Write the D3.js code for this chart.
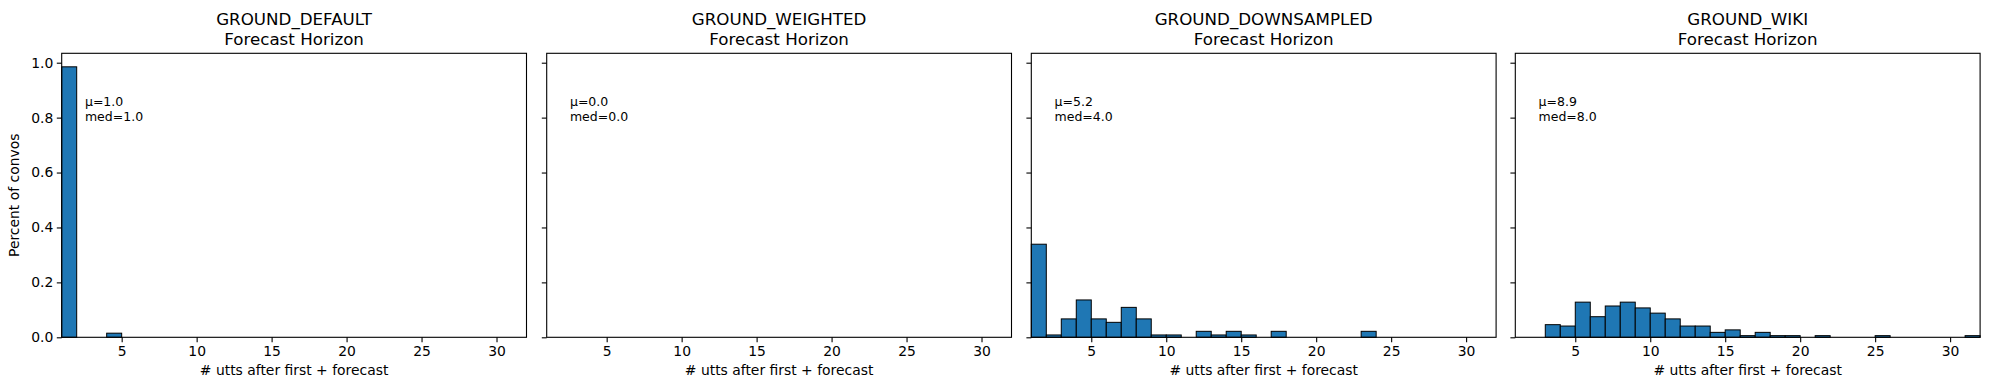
<!DOCTYPE html>
<html>
<head>
<meta charset="utf-8">
<script src="https://cdn.jsdelivr.net/npm/d3@7"></script>
<style>
  html, body { margin: 0; padding: 0; background: #fff; }
  svg { display: block; font-family: "DejaVu Sans", sans-serif; }
</style>
</head>
<body>
<svg id="chart" width="1990" height="390"></svg>
<script>
// histogram bins: width 1, from 1 to 32
const binStarts = d3.range(1, 32);

const panelNames = ['GROUND_DEFAULT', 'GROUND_WEIGHTED', 'GROUND_DOWNSAMPLED', 'GROUND_WIKI'];
const means = ['1.0', '0.0', '5.2', '8.9'];
const medians = ['1.0', '0.0', '4.0', '8.0'];

// share of convos per bin
const defaultVals = [0.985, 0, 0, 0.015, 0, 0, 0, 0, 0, 0, 0, 0, 0, 0, 0, 0,
  0, 0, 0, 0, 0, 0, 0, 0, 0, 0, 0, 0, 0, 0, 0];
const weightedVals = [0, 0, 0, 0, 0, 0, 0, 0, 0, 0, 0, 0, 0, 0, 0, 0,
  0, 0, 0, 0, 0, 0, 0, 0, 0, 0, 0, 0, 0, 0, 0];
const downsampledVals = [0.339, 0.0085, 0.067, 0.136, 0.067, 0.0545, 0.109, 0.067, 0.0085, 0.0085,
  0, 0.0218, 0.0085, 0.0218, 0.0085, 0, 0.0218, 0, 0, 0, 0, 0, 0.0218, 0, 0, 0, 0, 0, 0, 0, 0];
const wikiVals = [0, 0, 0.046, 0.041, 0.128, 0.075, 0.114, 0.128, 0.107, 0.088,
  0.067, 0.041, 0.041, 0.018, 0.027, 0.006, 0.018, 0.006, 0.006, 0, 0.006,
  0, 0, 0, 0.006, 0, 0, 0, 0, 0, 0.006];

const xTicks = [5, 10, 15, 20, 25, 30];
const yTicks = [0, 0.2, 0.4, 0.6, 0.8, 1.0];

const series = [defaultVals, weightedVals, downsampledVals, wikiVals];

const svg = d3.select('#chart');
const panelLeft = [61.7, 546.7, 1031.3, 1515.3];
const panelW = 464.8;
const plotTop = 53.3;
const plotBottom = 337.3;

const yMax = d3.max(series.flat()) * 1.05;
const y = d3.scaleLinear().domain([0, yMax]).range([plotBottom, plotTop]);

panelNames.forEach((name, i) => {
  const x = d3.scaleLinear().domain([1, 32]).range([panelLeft[i], panelLeft[i] + panelW]);
  const g = svg.append('g');

  // bars
  const bars = binStarts.map((b, j) => ({x0: b, x1: b + 1, v: series[i][j]})).filter((d) => d.v > 0);
  g.selectAll('rect.bar')
    .data(bars)
    .join('rect')
    .attr('class', 'bar')
    .attr('x', (d) => x(d.x0))
    .attr('y', (d) => y(d.v))
    .attr('width', (d) => x(d.x1) - x(d.x0))
    .attr('height', (d) => y(0) - y(d.v))
    .attr('fill', '#1f77b4')
    .attr('stroke', '#000')
    .attr('stroke-width', 1);

  // axes
  const xAxis = d3.axisBottom(x).tickValues(xTicks).tickSize(4.9).tickPadding(3.5).tickFormat(d3.format('d'));
  g.append('g').attr('transform', `translate(0,${plotBottom})`).call(xAxis)
    .call((a) => a.select('.domain').remove());

  const yAxis = d3.axisLeft(y).tickValues(yTicks).tickSize(4.9).tickPadding(3.5)
    .tickFormat(i === 0 ? d3.format('.1f') : () => '');
  g.append('g').attr('transform', `translate(${panelLeft[i]},0)`).call(yAxis)
    .call((a) => a.select('.domain').remove());

  g.selectAll('.tick text').attr('font-size', 13.9).attr('fill', '#000').attr('font-family', 'DejaVu Sans');
  g.selectAll('.tick line').attr('stroke', '#000').attr('stroke-width', 1.1);

  g.append('rect')
    .attr('x', panelLeft[i]).attr('y', plotTop)
    .attr('width', panelW).attr('height', plotBottom - plotTop)
    .attr('fill', 'none').attr('stroke', '#000').attr('stroke-width', 1.1);

  // title
  const cx = panelLeft[i] + panelW / 2;
  g.append('text').attr('x', cx).attr('y', 24.5).attr('text-anchor', 'middle')
    .attr('font-size', 16.7).text(name);
  g.append('text').attr('x', cx).attr('y', 44.5).attr('text-anchor', 'middle')
    .attr('font-size', 16.7).text('Forecast Horizon');

  // x label
  g.append('text').attr('x', cx).attr('y', 375).attr('text-anchor', 'middle')
    .attr('font-size', 13.9).text('# utts after first + forecast');

  // stats
  const tx = panelLeft[i] + panelW * 0.05;
  g.append('text').attr('x', tx).attr('y', 105.5).attr('font-size', 12.5).text(`μ=${means[i]}`);
  g.append('text').attr('x', tx).attr('y', 120.5).attr('font-size', 12.5).text(`med=${medians[i]}`);
});

svg.append('text')
  .attr('transform', `translate(19,${(plotTop + plotBottom) / 2}) rotate(-90)`)
  .attr('text-anchor', 'middle')
  .attr('font-size', 13.9)
  .text('Percent of convos');
</script>
</body>
</html>
